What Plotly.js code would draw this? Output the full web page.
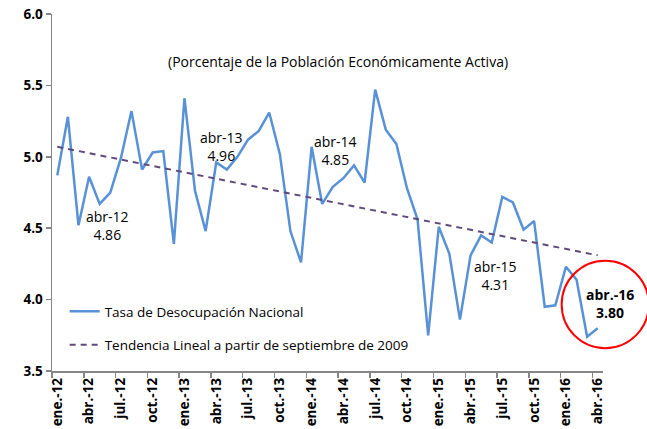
<!DOCTYPE html>
<html>
<head>
<meta charset="utf-8">
<script src="https://cdn.plot.ly/plotly-3.0.1.min.js"></script>
<style>html,body{margin:0;padding:0;background:#fff;}#chart{width:647px;height:429px;}</style>
</head>
<body>
<div id="chart"></div>
<script>
const months = [
  "ene.-12","feb.-12","mar.-12","abr.-12","may.-12","jun.-12","jul.-12","ago.-12","sep.-12","oct.-12","nov.-12","dic.-12",
  "ene.-13","feb.-13","mar.-13","abr.-13","may.-13","jun.-13","jul.-13","ago.-13","sep.-13","oct.-13","nov.-13","dic.-13",
  "ene.-14","feb.-14","mar.-14","abr.-14","may.-14","jun.-14","jul.-14","ago.-14","sep.-14","oct.-14","nov.-14","dic.-14",
  "ene.-15","feb.-15","mar.-15","abr.-15","may.-15","jun.-15","jul.-15","ago.-15","sep.-15","oct.-15","nov.-15","dic.-15",
  "ene.-16","feb.-16","mar.-16","abr.-16"
];
const rate = [
  4.87, 5.28, 4.52, 4.86, 4.67, 4.75, 4.99, 5.32, 4.91, 5.03, 5.04, 4.39,
  5.41, 4.76, 4.48, 4.96, 4.91, 5.00, 5.12, 5.18, 5.31, 5.02, 4.48, 4.26,
  5.07, 4.67, 4.79, 4.85, 4.94, 4.82, 5.47, 5.19, 5.09, 4.78, 4.56, 3.75,
  4.51, 4.32, 3.86, 4.31, 4.45, 4.40, 4.72, 4.68, 4.49, 4.55, 3.95, 3.96,
  4.23, 4.14, 3.74, 3.80
];
const trendMonths = ["ene.-12", "abr.-16"];
const trendValues = [5.07, 4.31];
const tickLabels = ["ene.-12","abr.-12","jul.-12","oct.-12","ene.-13","abr.-13","jul.-13","oct.-13",
  "ene.-14","abr.-14","jul.-14","oct.-14","ene.-15","abr.-15","jul.-15","oct.-15","ene.-16","abr.-16"];
const yTicks = [3.5, 4.0, 4.5, 5.0, 5.5, 6.0];
const highlightLabels = ["abr-12", "abr-13", "abr-14", "abr-15", "abr.-16"];
const highlightValues = ["4.86", "4.96", "4.85", "4.31", "3.80"];

const FONT = "'Open Sans', sans-serif";
const TXT = 14;
const idx = m => months.indexOf(m);
const xs = months.map((m, i) => i);

const traces = [
  {
    x: xs, y: rate, type: "scatter", mode: "lines",
    name: "Tasa de Desocupación Nacional",
    line: {color: "#5891d6", width: 2.5},
    legendgroup: "a"
  },
  {
    x: trendMonths.map(idx), y: trendValues, type: "scatter", mode: "lines",
    name: "Tendencia Lineal a partir de septiembre de 2009",
    line: {color: "#604a7b", width: 2, dash: "6px,5px"},
    legendgroup: "b"
  }
];

const annPos = [[4.78, 4.52], [15.48, 5.074], [26.26, 5.046], [41.36, 4.168]];
const annotations = annPos.map((p, i) => ({
  x: p[0], y: p[1], xref: "x", yref: "y", xanchor: "center", yanchor: "middle",
  text: highlightLabels[i] + "<br>" + highlightValues[i],
  showarrow: false, font: {family: FONT, size: TXT, color: "#000"}
}));
annotations.push({
  x: 1.013, y: 0.19, xref: "paper", yref: "paper", xanchor: "center", yanchor: "middle",
  text: "<b>" + highlightLabels[4] + "<br>" + highlightValues[4] + "</b>",
  showarrow: false, font: {family: FONT, size: TXT, color: "#000"}
});
annotations.push({
  x: 0.519, y: 0.867, xref: "paper", yref: "paper", xanchor: "center", yanchor: "middle",
  text: "(Porcentaje de la Población Económicamente Activa)",
  showarrow: false, font: {family: FONT, size: TXT, color: "#000"}
});

const layout = {
  width: 647, height: 429,
  margin: {l: 52, r: 44, t: 14, b: 58},
  paper_bgcolor: "#fff", plot_bgcolor: "#fff",
  showlegend: true,
  legend: {
    x: 0.023, y: 0.21, xanchor: "left", yanchor: "top",
    font: {family: FONT, size: 13.5, color: "#000"},
    tracegroupgap: 13, bgcolor: "rgba(0,0,0,0)"
  },
  xaxis: {
    range: [-0.5, 51.5],
    tickmode: "array",
    tickvals: tickLabels.map(idx),
    ticktext: tickLabels,
    tickangle: -90,
    ticks: "",
    showgrid: false, zeroline: false,
    showline: true, linecolor: "#868686", linewidth: 1.5,
    tickfont: {family: FONT, size: 13.5, color: "#000", weight: "bold"},
    minor: {tick0: -0.5, dtick: 3, ticks: "outside", ticklen: 5, tickcolor: "#868686", tickwidth: 1.5, showgrid: false}
  },
  yaxis: {
    range: [3.5, 6.0],
    tickmode: "array",
    tickvals: yTicks,
    ticktext: yTicks.map(v => v.toFixed(1)),
    ticks: "outside", ticklen: 5, tickcolor: "#868686", tickwidth: 1.5,
    showgrid: false, zeroline: false,
    showline: true, linecolor: "#868686", linewidth: 1.5,
    tickfont: {family: FONT, size: 13.5, color: "#000", weight: "bold"}
  },
  annotations: annotations,
  shapes: [{
    type: "circle", xref: "paper", yref: "paper",
    x0: 0.925, x1: 1.083, y0: 0.064, y1: 0.309,
    line: {color: "#ff0000", width: 2}
  }]
};

Plotly.newPlot("chart", traces, layout, {displayModeBar: false, staticPlot: true});
</script>
</body>
</html>
